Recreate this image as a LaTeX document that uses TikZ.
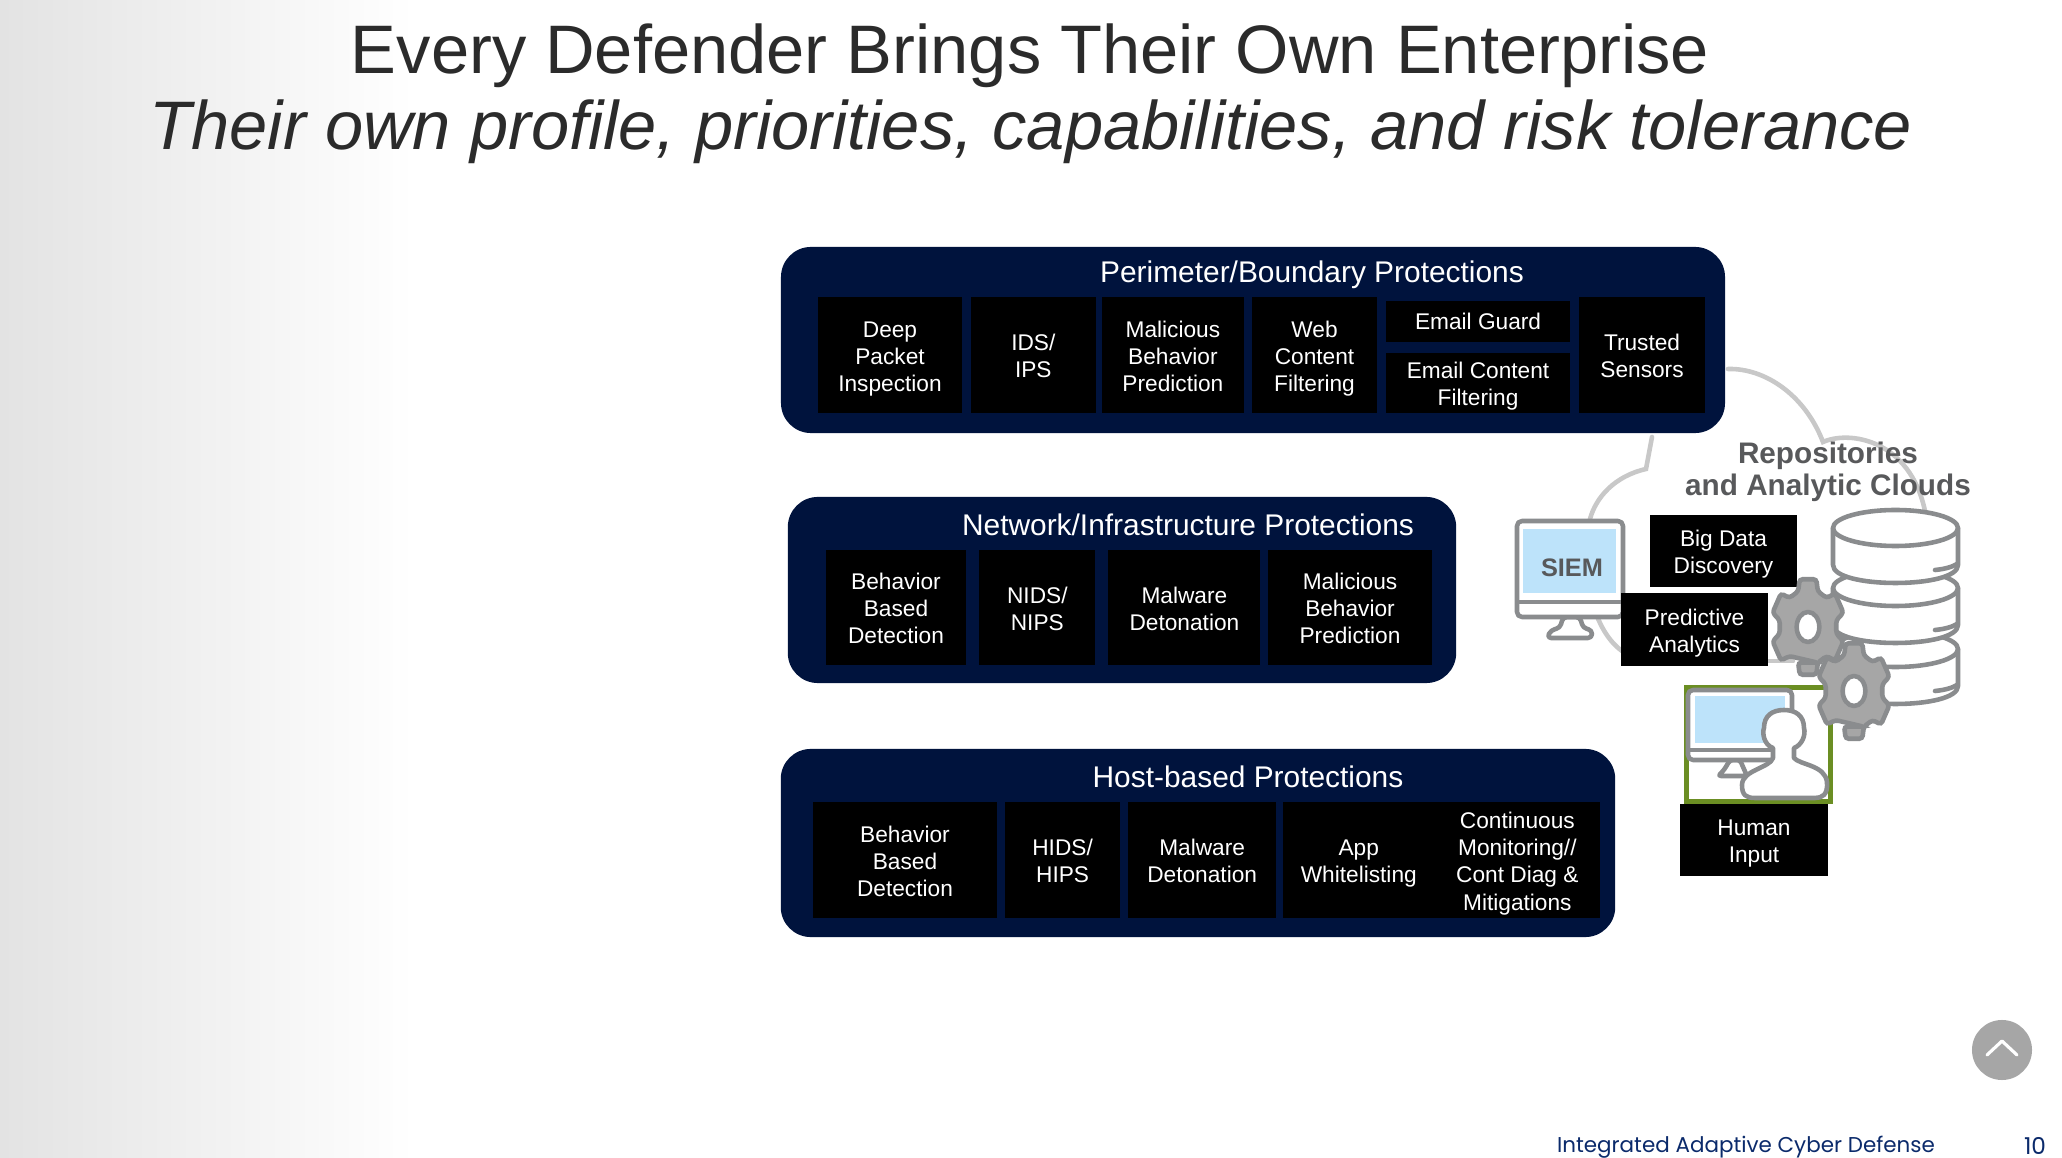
\documentclass[tikz,border=0pt]{standalone}
\usepackage{xcolor}
\usepackage{fontspec}
\setmainfont{Liberation Sans}
\newfontfamily\footfont{Poppins}
\usepackage{tikz}
\usetikzlibrary{positioning}
\definecolor{panelnavy}{HTML}{00133D}
\definecolor{titlegrey}{HTML}{2B2B2B}
\definecolor{labelgrey}{HTML}{58595B}
\definecolor{iconline}{HTML}{8A8C8E}
\definecolor{gearfill}{HTML}{A6A6A6}
\definecolor{cloudline}{HTML}{C8C8C8}
\definecolor{screenblue}{HTML}{BDE3FA}
\definecolor{framegreen}{HTML}{6B8E23}
\definecolor{footblue}{HTML}{0B2A6B}
\newcommand{\cellup}{\rule{0pt}{6.9pt}}
\newcommand{\celldown}{\rule[-1.55pt]{0pt}{1.55pt}}

\begin{document}
\begin{tikzpicture}[x=0.01cm, y=-0.01cm,
        panel/.style={rectangle, fill=panelnavy, rounded corners=0.3cm, inner sep=0pt},
        paneltitle/.style={text=white, inner sep=0pt, font=\fontsize{8.5}{10}\selectfont},
        flatcell/.style={rectangle, fill=black, text=white, inner sep=0pt, outer sep=0pt, align=center, minimum height=1.16cm, font=\fontsize{6.45}{7.7}\selectfont},
        cell/.style={flatcell, execute at end node=\celldown},
        sidecell/.style={cell, minimum width=1.47cm, minimum height=0.72cm},
        icon/.style={draw=iconline, line width=1.3pt, fill=white, line join=round},
        cloud/.style={draw=cloudline, line width=1.3pt, line cap=round},
        gearwheel/.style={draw=iconline, line width=1.3pt, fill=gearfill, rounded corners=0.03cm}]

    \useasboundingbox (0,0) rectangle (2062,1158);
    \fill[white] (0,0) rectangle (2062,1158);
    \shade[left color=black!11, right color=white] (0,0) rectangle (415,1158);

    \node[text=titlegrey, inner sep=0pt, font=\fontsize{19.52}{22}\selectfont] (titleone) at (1030,56) {Every Defender Brings Their Own Enterprise};
    \node[text=titlegrey, inner sep=0pt, font=\fontsize{19.52}{22}\selectfont\itshape] (titletwo) at (1031,131.5) {Their own profile, priorities, capabilities, and risk tolerance};

    \draw[cloud] (1728,369) .. controls (1765,368) and (1805,395) .. (1823,442) .. controls (1850,430) and (1910,440) .. (1925,511);
    \draw[cloud] (1652,437) -- (1646,469) .. controls (1615,476) and (1596,497) .. (1590,519) .. controls (1580,565) and (1590,628) .. (1622,651);
    \draw[cloud] (1768,661) -- (1793,661);

    \node[panel, minimum width=9.435cm, minimum height=1.86cm] (perimeter) at (1253,340) {};
    \node[paneltitle] (perimetertitle) at (1312,275) {Perimeter/Boundary Protections};
    \node[cell, minimum width=1.435cm] (dpi) at (890,355) {\cellup Deep\\Packet\\Inspection};
    \node[cell, minimum width=1.25cm, right=0.09cm of dpi] (ids) {\cellup IDS/\\IPS};
    \node[cell, minimum width=1.42cm, right=0.06cm of ids] (mbp) {\cellup Malicious\\Behavior\\Prediction};
    \node[cell, minimum width=1.25cm, right=0.08cm of mbp] (webfilter) {\cellup Web\\Content\\Filtering};
    \node[flatcell, minimum width=1.84cm, minimum height=0.41cm, anchor=north west] (emailguard) at (1386,301) {Email Guard};
    \node[cell, minimum width=1.84cm, minimum height=0.60cm, anchor=north west] (emailfilter) at (1386,353) {\cellup Email Content\\Filtering};
    \node[cell, minimum width=1.26cm, anchor=west] (sensors) at (1579,355) {\cellup Trusted\\Sensors};

    \node[panel, minimum width=6.68cm, minimum height=1.86cm] (network) at (1122,590) {};
    \node[paneltitle] (networktitle) at (1188,525) {Network/Infrastructure Protections};
    \node[cell, minimum width=1.405cm, minimum height=1.15cm] (bbdnet) at (896,607.5) {\cellup Behavior\\Based\\Detection};
    \node[cell, minimum width=1.16cm, minimum height=1.15cm, right=0.13cm of bbdnet] (nids) {\cellup NIDS/\\NIPS};
    \node[cell, minimum width=1.52cm, minimum height=1.15cm, right=0.13cm of nids] (malnet) {\cellup Malware\\Detonation};
    \node[cell, minimum width=1.63cm, minimum height=1.15cm, right=0.08cm of malnet] (mbpnet) {\cellup Malicious\\Behavior\\Prediction};

    \node[panel, minimum width=8.34cm, minimum height=1.88cm] (host) at (1198,843) {};
    \node[paneltitle] (hosttitle) at (1248,777) {Host-based Protections};
    \node[cell, minimum width=1.84cm] (bbdhost) at (905,860) {\cellup Behavior\\Based\\Detection};
    \node[cell, minimum width=1.15cm, right=0.08cm of bbdhost] (hids) {\cellup HIDS/\\HIPS};
    \node[cell, minimum width=1.48cm, right=0.08cm of hids] (malhost) {\cellup Malware\\Detonation};
    \node[cell, minimum width=1.51cm, right=0.07cm of malhost] (appwhite) {\cellup App\\Whitelisting};
    \node[cell, minimum width=1.66cm, right=0cm of appwhite] (contmon) {\cellup Continuous\\Monitoring//\\Cont Diag \&\\Mitigations};

    \node[inner sep=0pt, text=labelgrey, align=center, font=\fontsize{8.45}{9.1}\selectfont\bfseries] (repolabel) at (1828,472) {Repositories\\and Analytic Clouds};

    \foreach \c in {649,588,528} {
        \path[icon] (1833,\c) -- (1833,\c+37) .. controls (1833,\c+61) and (1958,\c+61) .. (1958,\c+37) -- (1958,\c) -- cycle;
        \draw[icon] (1895.5,\c) ellipse [x radius=62.5, y radius=18];
        \draw[draw=iconline, line width=1.3pt, line cap=round] (1935,\c+42) .. controls (1945,\c+41) and (1952,\c+39) .. (1957,\c+36);
    }

    \draw[icon, rounded corners=0.04cm] (1547,638) -- (1551,630) -- (1560,628) -- (1563,617) -- (1580,617) -- (1583,628) -- (1592,630) -- (1592,638) -- cycle;
    \draw[icon, rounded corners=0.05cm] (1517,521) rectangle (1623,617);
    \draw[iconline, line width=1.3pt] (1517,602) -- (1623,602);
    \node[rectangle, fill=screenblue, minimum width=0.93cm, minimum height=0.64cm, inner sep=0pt] (siemscreen) at (1569.5,561) {};
    \node[inner sep=0pt, text=labelgrey, font=\fontsize{7.2}{8}\selectfont\bfseries] (siem) at (1572,568) {SIEM};

    \node[sidecell] (bigdata) at (1723.5,551) {\cellup Big Data\\Discovery};
    \node[sidecell] (predictive) at (1694.5,629.5) {\cellup Predictive\\Analytics};
    \node[sidecell] (human) at (1754,840) {\cellup Human\\Input};

    \node[rectangle, draw=framegreen, line width=1.3pt, fill=white, minimum width=1.44cm, minimum height=1.14cm, inner sep=0pt] (humanframe) at (1758.5,744.5) {};
    \draw[icon, rounded corners=0.03cm] (1718,776) -- (1724,770) -- (1730,760) -- (1740,760) -- (1747,776) -- cycle;
    \draw[icon, rounded corners=0.05cm] (1688,690) rectangle (1792,760);
    \draw[iconline, line width=1.3pt] (1688,750) -- (1792,750);
    \node[rectangle, fill=screenblue, minimum width=0.90cm, minimum height=0.47cm, inner sep=0pt] (humanscreen) at (1740,719.5) {};
    \draw[icon] (1773,748) .. controls (1764,745) and (1762,733) .. (1764,728) .. controls (1764,716) and (1772,710) .. (1784,710) .. controls (1796,710) and (1804,716) .. (1804,728) .. controls (1806,735) and (1802,745) .. (1794,748) -- (1794,758) .. controls (1800,765) and (1825,765) .. (1827,782) .. controls (1828,795) and (1822,798) .. (1815,798) -- (1755,798) .. controls (1746,798) and (1742,795) .. (1742,785) .. controls (1742,770) and (1770,768) .. (1773,758) -- cycle;

    \begin{scope}[shift={(1808,627)}, xscale=0.755]
        \draw[gearwheel] (70:38) \foreach \a in {90,30,-30,-90,-150,-210} { -- (\a+20:38) -- (\a+13:49) -- (\a-13:49) -- (\a-20:38) } -- cycle;
        \draw[icon] (0,0) circle [radius=15];
    \end{scope}
    \begin{scope}[shift={(1854,691)}, xscale=0.755]
        \draw[gearwheel] (70:38) \foreach \a in {90,30,-30,-90,-150,-210} { -- (\a+20:38) -- (\a+13:49) -- (\a-13:49) -- (\a-20:38) } -- cycle;
        \draw[icon] (0,0) circle [radius=15];
    \end{scope}

    \node[circle, fill=gearfill, minimum size=0.6cm, inner sep=0pt] (topbutton) at (2002,1050) {};
    \draw[white, line width=0.9pt, line cap=round, line join=round] ([shift={(-15,5)}]topbutton.center) -- ([shift={(0,-9)}]topbutton.center) -- ([shift={(15,5)}]topbutton.center);

    \node[inner sep=0pt, text=footblue, font=\footfont\fontsize{6.1}{8}\selectfont] (footer) at (1746,1147) {Integrated Adaptive Cyber Defense};
    \node[inner sep=0pt, text=footblue, font=\footfont\fontsize{6.6}{8}\selectfont] (pagenum) at (2035,1146) {10};
\end{tikzpicture}
\end{document}
